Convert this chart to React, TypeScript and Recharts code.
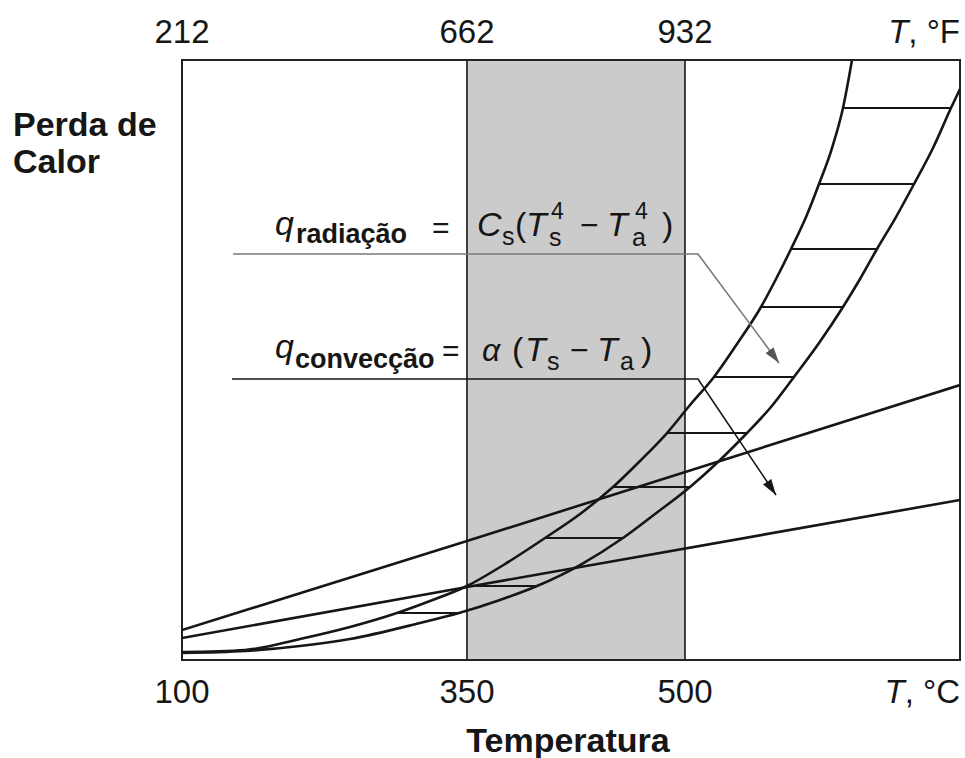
import React from 'react';
import {
  ComposedChart,
  Line,
  XAxis,
  YAxis,
  ReferenceArea,
  ReferenceLine,
  Customized,
} from 'recharts';

const FONT = '"Liberation Sans", Arial, Helvetica, sans-serif';
const INK = '#161616';

// X: relative temperature position across the plot (0 = left edge / 100 °C, 100 = right edge)
// Y: relative heat loss (0 = bottom, 100 = top)
const tickPositions = [0, 36.63, 64.65, 100];
const celsiusLabels = ['100', '350', '500', 'T, °C'];
const fahrenheitLabels = ['212', '662', '932', 'T, °F'];

const bandStart = 36.63;
const bandEnd = 64.65;

const convectionUpper = [
  { x: 0, y: 5.0 },
  { x: 36.63, y: 19.83 },
  { x: 100, y: 45.83 },
];

const convectionLower = [
  { x: 0, y: 3.67 },
  { x: 36.63, y: 12.17 },
  { x: 100, y: 26.67 },
];

const radiationUpper = [
  { x: 0, y: 1.33 },
  { x: 8.1, y: 1.67 },
  { x: 15.17, y: 3.5 },
  { x: 21.59, y: 5.5 },
  { x: 27.63, y: 7.83 },
  { x: 31.88, y: 9.83 },
  { x: 36.63, y: 12.33 },
  { x: 41.52, y: 16.0 },
  { x: 46.66, y: 20.33 },
  { x: 51.16, y: 24.33 },
  { x: 55.4, y: 28.83 },
  { x: 58.87, y: 33.17 },
  { x: 62.34, y: 37.83 },
  { x: 65.3, y: 42.5 },
  { x: 68.38, y: 47.17 },
  { x: 71.34, y: 52.67 },
  { x: 74.42, y: 58.83 },
  { x: 76.35, y: 63.5 },
  { x: 78.28, y: 68.5 },
  { x: 80.21, y: 73.83 },
  { x: 81.88, y: 79.33 },
  { x: 83.55, y: 85.33 },
  { x: 84.96, y: 92.0 },
  { x: 86.12, y: 100 },
];

const radiationLower = [
  { x: 0, y: 1.17 },
  { x: 8.1, y: 1.5 },
  { x: 15.17, y: 2.33 },
  { x: 21.59, y: 3.5 },
  { x: 30.59, y: 6.17 },
  { x: 35.6, y: 7.83 },
  { x: 40.87, y: 10.0 },
  { x: 45.63, y: 12.33 },
  { x: 51.16, y: 15.83 },
  { x: 56.68, y: 20.33 },
  { x: 60.8, y: 24.33 },
  { x: 65.3, y: 28.83 },
  { x: 68.89, y: 33.0 },
  { x: 72.62, y: 37.83 },
  { x: 75.71, y: 42.17 },
  { x: 78.66, y: 47.17 },
  { x: 81.88, y: 52.83 },
  { x: 84.96, y: 58.83 },
  { x: 87.15, y: 63.5 },
  { x: 89.33, y: 68.5 },
  { x: 91.77, y: 73.83 },
  { x: 94.09, y: 79.33 },
  { x: 96.53, y: 85.33 },
  { x: 98.84, y: 92.0 },
  { x: 100, y: 95.17 },
];

const hatchLevels = [7.83, 12.33, 20.33, 28.83, 37.83, 47.17, 58.83, 68.5, 79.33, 92.0];
const hatchFrom = [27.63, 36.63, 46.66, 55.4, 62.34, 68.38, 74.42, 78.28, 81.88, 84.96];
const hatchTo = [35.6, 45.63, 56.68, 65.3, 72.62, 78.66, 84.96, 89.33, 94.09, 98.84];

const radiationLeader = [
  { x: 6.56, y: 67.67 },
  { x: 66.32, y: 67.67 },
  { x: 76.74, y: 49.5 },
];

const convectionLeader = [
  { x: 6.43, y: 46.83 },
  { x: 66.32, y: 46.83 },
  { x: 76.35, y: 27.5 },
];

const makeTick = (labels: string[], unit: string, top: boolean) => (props: any) => {
  const { x, y, index } = props;
  const label = labels[index];
  const ty = top ? y - 17 : y + 43;
  if (index === labels.length - 1) {
    return (
      <text x={x} y={ty} textAnchor="end" fontFamily={FONT} fontSize={33} fill={INK}>
        <tspan fontStyle="italic">T</tspan>
        <tspan>{', ' + unit}</tspan>
      </text>
    );
  }
  return (
    <text x={x} y={ty} textAnchor="middle" fontFamily={FONT} fontSize={33} fill={INK}>
      {label}
    </text>
  );
};

const BottomTick = makeTick(celsiusLabels, '°C', false);
const TopTick = makeTick(fahrenheitLabels, '°F', true);

const S = (p: any) => (
  <tspan
    x={p.x}
    y={p.y}
    fontSize={p.size}
    fontStyle={p.italic ? 'italic' : 'normal'}
    fontWeight={p.bold ? 'bold' : 'normal'}
  >
    {p.children}
  </tspan>
);

const Markers = () => (
  <defs>
    <marker id="arrowGray" markerWidth="16" markerHeight="10" refX="16" refY="5" orient="auto" markerUnits="userSpaceOnUse">
      <path d="M0,0 L16,5 L0,10 Z" fill="#555" />
    </marker>
    <marker id="arrowBlack" markerWidth="16" markerHeight="10" refX="16" refY="5" orient="auto" markerUnits="userSpaceOnUse">
      <path d="M0,0 L16,5 L0,10 Z" fill={INK} />
    </marker>
  </defs>
);

const Annotations = () => (
  <g>
    <text fontFamily={FONT} fontSize={34} fontWeight="bold" fill={INK}>
      <tspan x={13} y={136}>Perda de</tspan>
      <tspan x={13} y={173}>Calor</tspan>
    </text>

    {/* q_radiação = Cs(Ts^4 − Ta^4) */}
    <text fontFamily={FONT} fill={INK}>
      <S x={275} y={235} size={34} italic>q</S>
      <S x={296} y={243} size={27} bold>radiação</S>
      <S x={432} y={238} size={30}>=</S>
      <S x={477} y={236} size={34} italic>C</S>
      <S x={502} y={245} size={25}>s</S>
      <S x={515} y={236} size={34}>(</S>
      <S x={526} y={236} size={34} italic>T</S>
      <S x={551} y={219} size={23}>4</S>
      <S x={549} y={246} size={25}>s</S>
      <S x={580} y={236} size={32}>−</S>
      <S x={607} y={236} size={34} italic>T</S>
      <S x={635} y={219} size={23}>4</S>
      <S x={632} y={246} size={25}>a</S>
      <S x={662} y={236} size={34}>)</S>
    </text>

    {/* q_convecção = α (Ts − Ta) */}
    <text fontFamily={FONT} fill={INK}>
      <S x={275} y={358} size={34} italic>q</S>
      <S x={295} y={368} size={27} bold>convecção</S>
      <S x={442} y={361} size={30}>=</S>
      <S x={482} y={361} size={32} italic>α</S>
      <S x={512} y={361} size={34}>(</S>
      <S x={525} y={361} size={34} italic>T</S>
      <S x={547} y={370} size={25}>s</S>
      <S x={570} y={361} size={32}>−</S>
      <S x={597} y={361} size={34} italic>T</S>
      <S x={620} y={370} size={25}>a</S>
      <S x={641} y={361} size={34}>)</S>
    </text>
  </g>
);

const lineCommon = {
  dataKey: 'y',
  dot: false,
  activeDot: false,
  isAnimationActive: false,
  legendType: 'none' as const,
};

export default function App() {
  return (
    <div style={{ position: 'absolute', left: 0, top: 0, width: 965, height: 758, background: '#fff' }}>
      <ComposedChart
        width={965}
        height={758}
        margin={{ top: 0, right: 5, bottom: 0, left: 182 }}
        style={{ fontFamily: FONT }}
      >
        <XAxis
          dataKey="x"
          type="number"
          domain={[0, 100]}
          allowDataOverflow
          ticks={tickPositions}
          interval={0}
          tick={BottomTick}
          tickLine={false}
          tickSize={0}
          tickMargin={0}
          axisLine={{ stroke: '#222', strokeWidth: 2 }}
          height={98}
          label={{
            content: (p: any) => {
              const vb = p.viewBox;
              return (
                <text
                  x={vb.x + vb.width / 2 - 3}
                  y={vb.y + 92}
                  textAnchor="middle"
                  fontFamily={FONT}
                  fontSize={34}
                  fontWeight="bold"
                  fill={INK}
                >
                  Temperatura
                </text>
              );
            },
          }}
        />
        <XAxis
          xAxisId="top"
          orientation="top"
          dataKey="x"
          type="number"
          domain={[0, 100]}
          allowDataOverflow
          ticks={tickPositions}
          interval={0}
          tick={TopTick}
          tickLine={false}
          tickSize={0}
          tickMargin={0}
          axisLine={{ stroke: '#222', strokeWidth: 2 }}
          height={60}
        />
        <YAxis type="number" domain={[0, 100]} allowDataOverflow hide />

        <Customized component={<Markers />} />

        <ReferenceArea
          x1={bandStart}
          x2={bandEnd}
          y1={0}
          y2={100}
          fill="#cbcbcb"
          fillOpacity={1}
          stroke={INK}
          strokeWidth={1.6}
        />

        {hatchLevels.map((lv, i) => (
          <ReferenceLine
            key={'h' + i}
            segment={[
              { x: hatchFrom[i], y: lv },
              { x: hatchTo[i], y: lv },
            ]}
            stroke={INK}
            strokeWidth={2}
          />
        ))}

        <Line {...lineCommon} data={convectionUpper} type="linear" stroke={INK} strokeWidth={2.6} />
        <Line {...lineCommon} data={convectionLower} type="linear" stroke={INK} strokeWidth={2.6} />
        <Line {...lineCommon} data={radiationUpper} type="monotone" stroke={INK} strokeWidth={2.6} />
        <Line {...lineCommon} data={radiationLower} type="monotone" stroke={INK} strokeWidth={2.6} />

        <Line
          {...lineCommon}
          data={radiationLeader}
          type="linear"
          stroke="#7a7a7a"
          strokeWidth={1.6}
          markerEnd="url(#arrowGray)"
        />
        <Line
          {...lineCommon}
          data={convectionLeader}
          type="linear"
          stroke={INK}
          strokeWidth={1.6}
          markerEnd="url(#arrowBlack)"
        />

        <ReferenceArea
          x1={0}
          x2={100}
          y1={0}
          y2={100}
          fill="none"
          fillOpacity={0}
          stroke="#222"
          strokeWidth={2}
          label={{ content: () => <Annotations /> }}
        />
      </ComposedChart>
    </div>
  );
}
